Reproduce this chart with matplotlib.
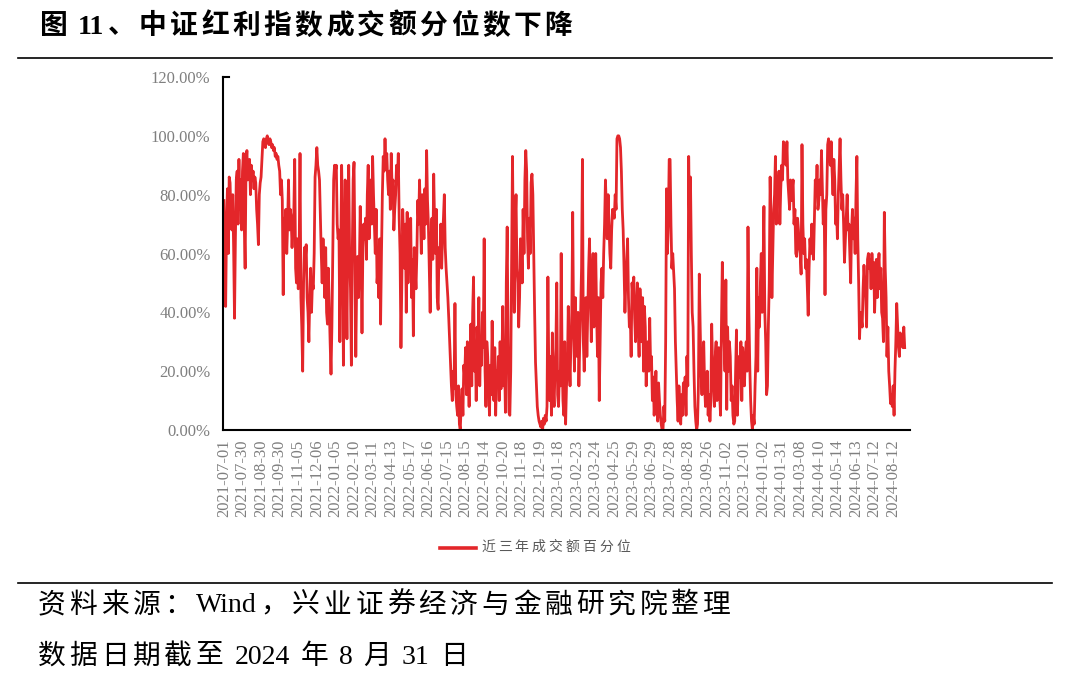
import unicodedata
import numpy as np
import matplotlib.pyplot as plt
from matplotlib.lines import Line2D

plt.rcParams['font.family'] = ['Liberation Serif', 'Noto Sans CJK SC', 'DejaVu Sans']

W, H = 1080, 689

# 横轴标签（每 21 个交易日一个）
tick_dates = [
    '2021-07-01', '2021-07-30', '2021-08-30', '2021-09-30', '2021-11-05', '2021-12-06',
    '2022-01-05', '2022-02-10', '2022-03-11', '2022-04-13', '2022-05-17', '2022-06-16',
    '2022-07-15', '2022-08-15', '2022-09-14', '2022-10-20', '2022-11-18', '2022-12-19',
    '2023-01-18', '2023-02-23', '2023-03-24', '2023-04-25', '2023-05-29', '2023-06-29',
    '2023-07-28', '2023-08-28', '2023-09-26', '2023-11-02', '2023-12-01', '2024-01-02',
    '2024-01-31', '2024-03-08', '2024-04-10', '2024-05-14', '2024-06-13', '2024-07-12',
    '2024-08-12',
]
tick_step = 21

# 近三年成交额百分位 (%), 按交易日读取
pct_part1 = [
    78, 58, 42, 70, 82, 60, 86, 84, 72, 68, 80, 62, 38, 65, 85, 88, 70, 92, 75, 85, 68,
    88, 94, 70, 55, 90, 95, 85, 88, 92, 80, 90, 85, 88, 82, 86, 84, 75, 70, 63, 80, 84,
    86, 92, 98, 99, 97, 96, 99, 100, 98, 97, 99, 98, 96, 97, 95, 96, 93, 94, 92, 93, 90,
    88, 80, 85, 78, 46, 72, 65, 75, 60, 70, 85, 68, 75, 72, 62, 70, 74, 92, 55, 50, 65,
    48, 60, 94, 45, 35, 20, 50, 62, 58, 63, 45, 40, 30, 45, 55, 40, 50, 48, 60, 86, 90,
    96, 90, 88, 85, 72, 60, 50, 65, 55, 45, 62, 40, 36, 55, 42, 30, 19, 35, 60, 85, 90,
    88, 90, 70, 65, 68, 30, 60, 90, 70, 22, 50, 85, 55, 31, 70, 90, 60, 48, 22, 60, 85,
    91, 60, 25, 50, 59, 45, 55, 76, 60, 33, 62, 70, 65, 72, 58, 80, 90, 65, 75, 85, 70,
    93, 80, 70, 60, 75, 50, 55, 45, 65, 36, 60, 80, 93, 88, 99, 90, 94, 85, 80, 88, 75,
]
pct_part2 = [
    94, 82, 85, 68, 75, 80, 90, 85, 94, 72, 60, 28, 50, 75, 65, 55, 70, 40, 74, 50, 66,
    60, 72, 45, 58, 32, 62, 55, 48, 60, 78, 70, 85, 72, 60, 80, 75, 65, 82, 70, 95, 78,
    70, 55, 40, 65, 72, 58, 87, 70, 60, 75, 45, 41, 62, 58, 70, 55, 66, 72, 80, 62, 55,
    50, 45, 38, 30, 22, 15, 10, 20, 14, 43, 12, 8, 5, 15, 2, 0, 8, 14, 5, 22, 18,
    28, 12, 30, 20, 8, 25, 36, 15, 40, 52, 20, 30, 10, 35, 25, 45, 15, 30, 22, 40, 28,
    65, 20, 8, 30, 25, 15, 5, 22, 12, 37, 18, 10, 28, 5, 20, 15, 25, 10, 30, 14, 22,
    42, 15, 25, 6, 50, 69, 30, 6, 5, 20, 55, 93, 60, 40, 70, 80, 55, 50, 35, 45, 65,
    62, 50, 75, 60, 85, 95, 88, 65, 55, 72, 60, 84, 87, 80, 60, 40, 23, 15, 8, 5, 3,
    2, 1, 3, 0, 4, 2, 5, 3, 8, 52, 20, 10, 25, 5, 33, 15, 8, 20, 28, 50, 12,
]
pct_part3 = [
    8, 20, 15, 60, 25, 10, 5, 30, 2, 15, 20, 42, 25, 15, 30, 40, 74, 35, 20, 45, 30,
    25, 40, 15, 30, 40, 55, 92, 30, 20, 35, 45, 25, 40, 55, 65, 45, 30, 50, 60, 35, 40,
    60, 40, 25, 45, 10, 30, 50, 55, 45, 60, 70, 85, 75, 65, 80, 70, 60, 55, 68, 75, 74,
    72, 80, 75, 99, 100, 100, 99, 96, 88, 75, 68, 55, 40, 50, 58, 65, 45, 35, 40, 25, 50,
    45, 52, 38, 30, 40, 50, 35, 25, 48, 40, 30, 45, 20, 42, 35, 15, 28, 30, 20, 38, 22,
    25, 10, 18, 5, 12, 20, 8, 3, 16, 10, 5, 2, 0, 0, 8, 3, 30, 82, 60, 70, 92,
    92, 70, 55, 60, 54, 48, 30, 20, 10, 3, 15, 8, 2, 12, 5, 16, 10, 18, 5, 25, 15,
    93, 70, 86, 60, 40, 35, 20, 8, 3, 0, 2, 15, 53, 35, 20, 12, 25, 30, 15, 8, 10,
    20, 5, 12, 3, 10, 36, 22, 15, 8, 25, 30, 10, 20, 28, 12, 5, 35, 57, 40, 30, 20,
]
pct_part4 = [
    51, 7, 35, 20, 30, 25, 10, 15, 5, 2, 3, 20, 34, 5, 15, 25, 18, 30, 10, 28, 20,
    15, 25, 30, 20, 69, 40, 22, 10, 3, 0, 5, 2, 15, 25, 55, 20, 45, 35, 50, 60, 40,
    55, 76, 40, 30, 12, 15, 35, 50, 86, 70, 45, 60, 75, 80, 93, 70, 85, 80, 88, 70, 82,
    90, 85, 98, 95, 92, 90, 98, 85, 80, 75, 85, 78, 82, 85, 70, 75, 60, 59, 72, 68, 62,
    60, 53, 97, 70, 60, 65, 55, 58, 48, 39, 55, 65, 60, 70, 62, 58, 72, 85, 80, 90, 75,
    78, 85, 80, 95, 82, 70, 78, 46, 75, 80, 97, 99, 95, 90, 98, 88, 80, 92, 85, 70, 75,
    65, 80, 90, 99, 85, 75, 80, 70, 57, 65, 72, 80, 68, 70, 60, 50, 68, 75, 65, 72, 60,
    80, 93, 65, 50, 31, 40, 38, 35, 48, 56, 50, 45, 35, 58, 60, 55, 58, 48, 60, 52, 57,
    40, 50, 58, 45, 55, 60, 48, 55, 40, 38, 30, 74, 55, 45, 25, 35, 20, 15, 9, 12, 8,
    15, 5, 20, 30, 43, 35, 28, 25, 33, 29, 30, 28, 35, 28,
]

series_name = '近三年成交额百分位'
title = '图 11、中证红利指数成交额分位数下降'
source = '资料来源：Wind，兴业证券经济与金融研究院整理'
date_note = '数据日期截至 2024 年 8 月 31 日'

pct = np.array(pct_part1 + pct_part2 + pct_part3 + pct_part4, dtype=float)
x = np.arange(len(pct))

fig = plt.figure(figsize=(W / 100, H / 100), dpi=100)
renderer = fig.canvas.get_renderer()


def spaced_text(x_px, y_px, s, size, gap_px, **kw):
    """逐字排版，模拟原图较宽的字距"""
    em = size * fig.dpi / 72
    tokens, buf = [], ''
    for ch in s:
        wide = unicodedata.east_asian_width(ch) in ('W', 'F')
        if wide or ch == ' ':
            if buf:
                tokens.append(buf)
                buf = ''
            tokens.append(ch)
        else:
            buf += ch
    if buf:
        tokens.append(buf)
    for tok in tokens:
        if tok == ' ':
            x_px += 0.25 * em
            continue
        t = fig.text(x_px / W, 1 - y_px / H, tok, fontsize=size,
                     va='center', ha='left', **kw)
        if unicodedata.east_asian_width(tok[0]) in ('W', 'F'):
            w = em
        else:
            w = t.get_window_extent(renderer).width
        x_px += w + gap_px


ax = fig.add_axes([223 / W, 1 - 430 / H, (910 - 223) / W, (430 - 77) / H])

line_color = '#E3262A'
ax.plot(x, pct, color=line_color, linewidth=2.0)

ax.set_xlim(-1, 775)
ax.set_ylim(0, 120)
ax.set_yticks(np.arange(0, 121, 20))
ax.set_yticklabels([f'{v:.2f}%' for v in np.arange(0, 121, 20)])
ax.set_xticks(np.arange(len(tick_dates)) * tick_step)
ax.set_xticklabels(tick_dates, rotation=90)

ax.tick_params(axis='y', length=0, pad=9, labelsize=12, labelcolor='#7f7f7f')
ax.tick_params(axis='x', length=0, pad=7, labelsize=12, labelcolor='#7f7f7f')

for side in ['top', 'right']:
    ax.spines[side].set_visible(False)
ax.spines['left'].set_linewidth(1.5)
ax.spines['bottom'].set_linewidth(1.5)
# 纵轴顶端的小刻度
ax.plot([-1, 6], [120, 120], color='black', linewidth=1.5, clip_on=False)

# 标题与分隔线
spaced_text(40, 27, title, 20, 3.4, fontweight='bold')
fig.add_artist(Line2D([18 / W, 1052 / W], [1 - 58 / H, 1 - 58 / H],
                      transform=fig.transFigure, color='black', linewidth=1.2))

# 图例
fig.add_artist(Line2D([440 / W, 476 / W], [1 - 548 / H, 1 - 548 / H],
                      transform=fig.transFigure, color=line_color, linewidth=2.6))
spaced_text(481, 547, series_name, 10, 3.0, color='#595959')

fig.add_artist(Line2D([18 / W, 1052 / W], [1 - 583 / H, 1 - 583 / H],
                      transform=fig.transFigure, color='black', linewidth=1.2))
spaced_text(38, 606, source, 20, 3.8)
spaced_text(38, 657, date_note, 20, 3.8)

fig.savefig('out.png', dpi=100)
